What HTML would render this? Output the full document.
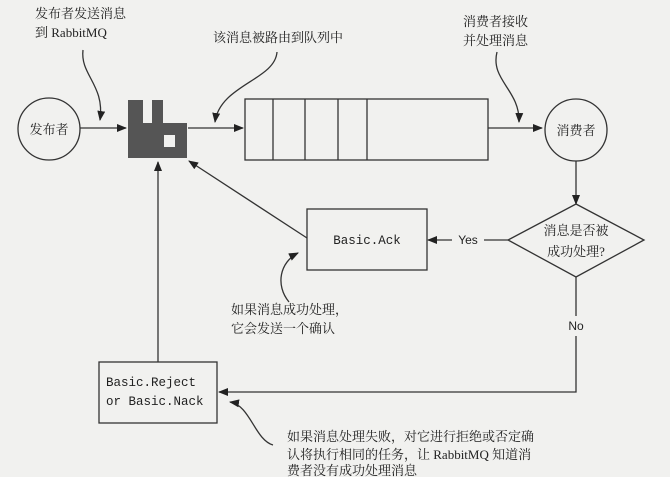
<!DOCTYPE html>
<html><head><meta charset="utf-8"><style>
html,body{margin:0;padding:0;background:#f1f1ef;}
svg{display:block}
.c{font-family:"Liberation Serif","Noto Serif CJK SC",serif;font-size:13px;fill:#222}
.m{font-family:"Liberation Mono",monospace;font-size:12.5px;fill:#222}
.s{font-family:"Liberation Sans",sans-serif;font-size:12px;fill:#222}
</style></head><body>
<svg width="670" height="477" viewBox="0 0 670 477" xmlns="http://www.w3.org/2000/svg">
<defs><marker id="a" markerWidth="10" markerHeight="8" refX="9" refY="4" orient="auto" markerUnits="userSpaceOnUse"><path d="M0,0 L10,4 L0,8 Z" fill="#222"/></marker></defs>
<g stroke="#333" stroke-width="1.3" fill="none">
<circle cx="49" cy="129" r="31"/>
<line x1="80" y1="128" x2="126" y2="128" marker-end="url(#a)"/>
<line x1="188" y1="128" x2="243" y2="128" marker-end="url(#a)"/>
<rect x="245" y="99" width="243" height="61"/>
<line x1="273" y1="99" x2="273" y2="160"/>
<line x1="305" y1="99" x2="305" y2="160"/>
<line x1="338" y1="99" x2="338" y2="160"/>
<line x1="367" y1="99" x2="367" y2="160"/>
<line x1="488" y1="128" x2="542" y2="128" marker-end="url(#a)"/>
<circle cx="576" cy="130" r="31"/>
<line x1="576" y1="161" x2="576" y2="204" marker-end="url(#a)"/>
<polygon points="576,204 644,240 576,277 508,240"/>
<line x1="508" y1="240" x2="484" y2="240"/>
<line x1="452" y1="240" x2="428" y2="240" marker-end="url(#a)"/>
<rect x="307" y="209" width="120" height="61"/>
<line x1="307" y1="238" x2="189" y2="161" marker-end="url(#a)"/>
<line x1="158" y1="362" x2="158" y2="162" marker-end="url(#a)"/>
<rect x="99" y="362" width="118" height="61"/>
<polyline points="576,277 576,316"/>
<polyline points="576,336 576,392 219,392" marker-end="url(#a)"/>
<path d="M83,50 C80,75 105,85 100,120" marker-end="url(#a)"/>
<path d="M277,52 C275,80 220,85 215,122" marker-end="url(#a)"/>
<path d="M497,52 C490,80 520,90 519,122" marker-end="url(#a)"/>
<path d="M289,302 C275,285 280,262 298,253" marker-end="url(#a)"/>
<path d="M273,445 C255,440 250,405 230,402" marker-end="url(#a)"/>
</g>
<path d="M128,100 H143 V123 H152 V100 H163 V123 H187 V158 H128 Z M164,135 H175 V147 H164 Z" fill="#555" fill-rule="evenodd"/>
<text class="c" x="49" y="134" text-anchor="middle">发布者</text>
<text class="c" x="576" y="135" text-anchor="middle">消费者</text>
<text class="c" x="576" y="235" text-anchor="middle">消息是否被</text>
<text class="c" x="576" y="256" text-anchor="middle">成功处理?</text>
<text class="s" x="468" y="244" text-anchor="middle">Yes</text>
<text class="s" x="576" y="330" text-anchor="middle">No</text>
<text class="m" x="367" y="244" text-anchor="middle">Basic.Ack</text>
<text class="m" x="106" y="386">Basic.Reject</text>
<text class="m" x="106" y="405">or Basic.Nack</text>
<text class="c" x="35" y="18">发布者发送消息</text>
<text class="c" x="35" y="37">到 RabbitMQ</text>
<text class="c" x="213" y="42">该消息被路由到队列中</text>
<text class="c" x="463" y="26">消费者接收</text>
<text class="c" x="463" y="45">并处理消息</text>
<text class="c" x="231" y="314">如果消息成功处理，</text>
<text class="c" x="231" y="333">它会发送一个确认</text>
<text class="c" x="287" y="441">如果消息处理失败，对它进行拒绝或否定确</text>
<text class="c" x="287" y="459">认将执行相同的任务，让 RabbitMQ 知道消</text>
<text class="c" x="287" y="475">费者没有成功处理消息</text>
</svg>
</body></html>
